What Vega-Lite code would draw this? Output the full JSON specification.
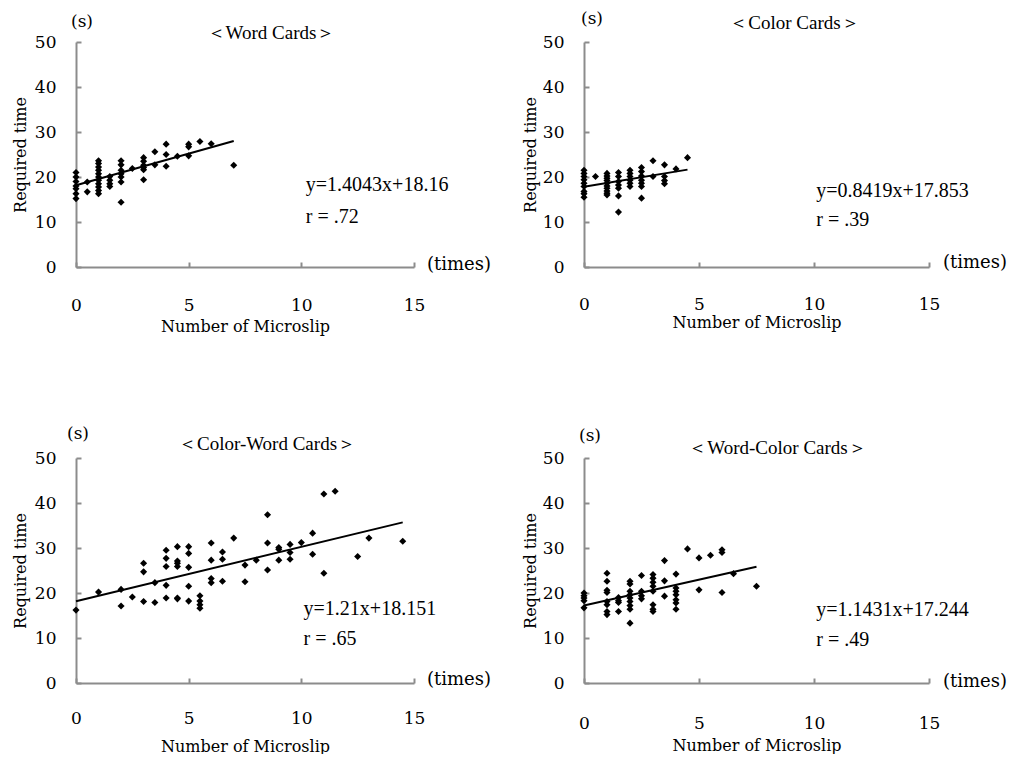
{
  "$schema": "https://vega.github.io/schema/vega-lite/v6.json",
  "autosize": {"type": "pad"},
  "padding": {"left": 12, "top": 10, "right": 0, "bottom": 0},
  "background": "white",
  "datasets": {
    "points": [
      {"panel": "W", "x": 0, "y": 21}, {"panel": "W", "x": 0, "y": 20}, {"panel": "W", "x": 0, "y": 19}, {"panel": "W", "x": 0, "y": 18}, {"panel": "W", "x": 0, "y": 17.4}, {"panel": "W", "x": 0, "y": 16.3}, {"panel": "W", "x": 0, "y": 15.2},
      {"panel": "W", "x": 0.5, "y": 18.9}, {"panel": "W", "x": 0.5, "y": 16.7},
      {"panel": "W", "x": 1, "y": 23.6}, {"panel": "W", "x": 1, "y": 23.0}, {"panel": "W", "x": 1, "y": 22.2}, {"panel": "W", "x": 1, "y": 21.5}, {"panel": "W", "x": 1, "y": 20.7}, {"panel": "W", "x": 1, "y": 20.0}, {"panel": "W", "x": 1, "y": 19.3}, {"panel": "W", "x": 1, "y": 18.5}, {"panel": "W", "x": 1, "y": 17.8}, {"panel": "W", "x": 1, "y": 17.0}, {"panel": "W", "x": 1, "y": 16.3},
      {"panel": "W", "x": 1.5, "y": 20.1}, {"panel": "W", "x": 1.5, "y": 19.3}, {"panel": "W", "x": 1.5, "y": 18.5}, {"panel": "W", "x": 1.5, "y": 17.9},
      {"panel": "W", "x": 2, "y": 23.6}, {"panel": "W", "x": 2, "y": 22.7}, {"panel": "W", "x": 2, "y": 21.5}, {"panel": "W", "x": 2, "y": 20.7}, {"panel": "W", "x": 2, "y": 20.0}, {"panel": "W", "x": 2, "y": 18.9}, {"panel": "W", "x": 2, "y": 14.4},
      {"panel": "W", "x": 2.5, "y": 21.9},
      {"panel": "W", "x": 3, "y": 24.3}, {"panel": "W", "x": 3, "y": 23.5}, {"panel": "W", "x": 3, "y": 22.6}, {"panel": "W", "x": 3, "y": 22.1}, {"panel": "W", "x": 3, "y": 21.6}, {"panel": "W", "x": 3, "y": 19.4},
      {"panel": "W", "x": 3.5, "y": 25.6}, {"panel": "W", "x": 3.5, "y": 22.7},
      {"panel": "W", "x": 4, "y": 27.3}, {"panel": "W", "x": 4, "y": 25.0}, {"panel": "W", "x": 4, "y": 22.4},
      {"panel": "W", "x": 4.5, "y": 24.6},
      {"panel": "W", "x": 5, "y": 27.3}, {"panel": "W", "x": 5, "y": 26.7}, {"panel": "W", "x": 5, "y": 24.7},
      {"panel": "W", "x": 5.5, "y": 27.9},
      {"panel": "W", "x": 6, "y": 27.4},
      {"panel": "W", "x": 7, "y": 22.6},

      {"panel": "C", "x": 0, "y": 21.5}, {"panel": "C", "x": 0, "y": 20.8}, {"panel": "C", "x": 0, "y": 20.1}, {"panel": "C", "x": 0, "y": 19.4}, {"panel": "C", "x": 0, "y": 18.6}, {"panel": "C", "x": 0, "y": 17.9}, {"panel": "C", "x": 0, "y": 16.8}, {"panel": "C", "x": 0, "y": 16.3}, {"panel": "C", "x": 0, "y": 15.5},
      {"panel": "C", "x": 0.5, "y": 20.1},
      {"panel": "C", "x": 1, "y": 20.8}, {"panel": "C", "x": 1, "y": 20.2}, {"panel": "C", "x": 1, "y": 19.7}, {"panel": "C", "x": 1, "y": 19.2}, {"panel": "C", "x": 1, "y": 18.6}, {"panel": "C", "x": 1, "y": 18.0}, {"panel": "C", "x": 1, "y": 17.5}, {"panel": "C", "x": 1, "y": 16.9}, {"panel": "C", "x": 1, "y": 16.4}, {"panel": "C", "x": 1, "y": 16.0},
      {"panel": "C", "x": 1.5, "y": 21.0}, {"panel": "C", "x": 1.5, "y": 20.1}, {"panel": "C", "x": 1.5, "y": 19.0}, {"panel": "C", "x": 1.5, "y": 18.2}, {"panel": "C", "x": 1.5, "y": 17.5}, {"panel": "C", "x": 1.5, "y": 15.8}, {"panel": "C", "x": 1.5, "y": 12.2},
      {"panel": "C", "x": 2, "y": 21.5}, {"panel": "C", "x": 2, "y": 20.8}, {"panel": "C", "x": 2, "y": 20.1}, {"panel": "C", "x": 2, "y": 19.3}, {"panel": "C", "x": 2, "y": 18.6}, {"panel": "C", "x": 2, "y": 17.9},
      {"panel": "C", "x": 2.5, "y": 22.1}, {"panel": "C", "x": 2.5, "y": 21.2}, {"panel": "C", "x": 2.5, "y": 20.2}, {"panel": "C", "x": 2.5, "y": 19.3}, {"panel": "C", "x": 2.5, "y": 18.6}, {"panel": "C", "x": 2.5, "y": 17.9}, {"panel": "C", "x": 2.5, "y": 15.3},
      {"panel": "C", "x": 3, "y": 23.6}, {"panel": "C", "x": 3, "y": 20.1},
      {"panel": "C", "x": 3.5, "y": 22.7}, {"panel": "C", "x": 3.5, "y": 20.1}, {"panel": "C", "x": 3.5, "y": 19.2}, {"panel": "C", "x": 3.5, "y": 18.5},
      {"panel": "C", "x": 4, "y": 21.8},
      {"panel": "C", "x": 4.5, "y": 24.3},

      {"panel": "CW", "x": 0, "y": 16.2}, {"panel": "CW", "x": 1, "y": 20.2}, {"panel": "CW", "x": 2, "y": 20.8}, {"panel": "CW", "x": 2, "y": 17.1}, {"panel": "CW", "x": 2.5, "y": 19.1},
      {"panel": "CW", "x": 3, "y": 26.6}, {"panel": "CW", "x": 3, "y": 24.7}, {"panel": "CW", "x": 3, "y": 18.1}, {"panel": "CW", "x": 3.5, "y": 22.3}, {"panel": "CW", "x": 3.5, "y": 17.9},
      {"panel": "CW", "x": 4, "y": 29.5}, {"panel": "CW", "x": 4, "y": 27.7}, {"panel": "CW", "x": 4, "y": 25.9}, {"panel": "CW", "x": 4, "y": 21.7}, {"panel": "CW", "x": 4, "y": 18.9},
      {"panel": "CW", "x": 4.5, "y": 30.3}, {"panel": "CW", "x": 4.5, "y": 27.1}, {"panel": "CW", "x": 4.5, "y": 26.6}, {"panel": "CW", "x": 4.5, "y": 25.9}, {"panel": "CW", "x": 4.5, "y": 18.9}, {"panel": "CW", "x": 4.5, "y": 18.7},
      {"panel": "CW", "x": 5, "y": 30.3}, {"panel": "CW", "x": 5, "y": 28.8}, {"panel": "CW", "x": 5, "y": 25.7}, {"panel": "CW", "x": 5, "y": 21.5}, {"panel": "CW", "x": 5, "y": 18.2},
      {"panel": "CW", "x": 5.5, "y": 19.4}, {"panel": "CW", "x": 5.5, "y": 18.2}, {"panel": "CW", "x": 5.5, "y": 17.4}, {"panel": "CW", "x": 5.5, "y": 16.6},
      {"panel": "CW", "x": 6, "y": 31.1}, {"panel": "CW", "x": 6, "y": 27.3}, {"panel": "CW", "x": 6, "y": 23.2}, {"panel": "CW", "x": 6, "y": 22.3},
      {"panel": "CW", "x": 6.5, "y": 29.1}, {"panel": "CW", "x": 6.5, "y": 27.5}, {"panel": "CW", "x": 6.5, "y": 22.6},
      {"panel": "CW", "x": 7, "y": 32.2}, {"panel": "CW", "x": 7.5, "y": 26.2}, {"panel": "CW", "x": 7.5, "y": 22.5}, {"panel": "CW", "x": 8, "y": 27.3},
      {"panel": "CW", "x": 8.5, "y": 37.4}, {"panel": "CW", "x": 8.5, "y": 31.1}, {"panel": "CW", "x": 8.5, "y": 25.1},
      {"panel": "CW", "x": 9, "y": 30.1}, {"panel": "CW", "x": 9, "y": 29.7}, {"panel": "CW", "x": 9, "y": 27.3},
      {"panel": "CW", "x": 9.5, "y": 30.8}, {"panel": "CW", "x": 9.5, "y": 29.0}, {"panel": "CW", "x": 9.5, "y": 27.5},
      {"panel": "CW", "x": 10, "y": 31.2}, {"panel": "CW", "x": 10.5, "y": 33.3}, {"panel": "CW", "x": 10.5, "y": 28.6},
      {"panel": "CW", "x": 11, "y": 24.4}, {"panel": "CW", "x": 11, "y": 42.0}, {"panel": "CW", "x": 11.5, "y": 42.6},
      {"panel": "CW", "x": 12.5, "y": 28.1}, {"panel": "CW", "x": 13, "y": 32.2}, {"panel": "CW", "x": 14.5, "y": 31.5},

      {"panel": "WC", "x": 0, "y": 20}, {"panel": "WC", "x": 0, "y": 19.4}, {"panel": "WC", "x": 0, "y": 18.9}, {"panel": "WC", "x": 0, "y": 18.3}, {"panel": "WC", "x": 0, "y": 16.7},
      {"panel": "WC", "x": 1, "y": 24.4}, {"panel": "WC", "x": 1, "y": 22.6}, {"panel": "WC", "x": 1, "y": 20.6}, {"panel": "WC", "x": 1, "y": 20.1}, {"panel": "WC", "x": 1, "y": 18.1}, {"panel": "WC", "x": 1, "y": 17.4}, {"panel": "WC", "x": 1, "y": 15.9}, {"panel": "WC", "x": 1, "y": 15.2},
      {"panel": "WC", "x": 1.5, "y": 19.0}, {"panel": "WC", "x": 1.5, "y": 18.3}, {"panel": "WC", "x": 1.5, "y": 17.9}, {"panel": "WC", "x": 1.5, "y": 15.9},
      {"panel": "WC", "x": 2, "y": 22.6}, {"panel": "WC", "x": 2, "y": 22.0}, {"panel": "WC", "x": 2, "y": 20.4}, {"panel": "WC", "x": 2, "y": 19.6}, {"panel": "WC", "x": 2, "y": 18.9}, {"panel": "WC", "x": 2, "y": 18.1}, {"panel": "WC", "x": 2, "y": 17.2}, {"panel": "WC", "x": 2, "y": 16.4}, {"panel": "WC", "x": 2, "y": 13.3},
      {"panel": "WC", "x": 2.5, "y": 23.9}, {"panel": "WC", "x": 2.5, "y": 20.4}, {"panel": "WC", "x": 2.5, "y": 19.4}, {"panel": "WC", "x": 2.5, "y": 18.7},
      {"panel": "WC", "x": 3, "y": 24.1}, {"panel": "WC", "x": 3, "y": 23.3}, {"panel": "WC", "x": 3, "y": 22.4}, {"panel": "WC", "x": 3, "y": 21.5}, {"panel": "WC", "x": 3, "y": 20.4}, {"panel": "WC", "x": 3, "y": 17.4}, {"panel": "WC", "x": 3, "y": 16.4}, {"panel": "WC", "x": 3, "y": 15.9},
      {"panel": "WC", "x": 3.5, "y": 27.2}, {"panel": "WC", "x": 3.5, "y": 22.7}, {"panel": "WC", "x": 3.5, "y": 19.3},
      {"panel": "WC", "x": 4, "y": 24.2}, {"panel": "WC", "x": 4, "y": 21.1}, {"panel": "WC", "x": 4, "y": 20.4}, {"panel": "WC", "x": 4, "y": 19.6}, {"panel": "WC", "x": 4, "y": 18.5}, {"panel": "WC", "x": 4, "y": 17.8}, {"panel": "WC", "x": 4, "y": 16.4},
      {"panel": "WC", "x": 4.5, "y": 29.8}, {"panel": "WC", "x": 5, "y": 27.8}, {"panel": "WC", "x": 5, "y": 20.7}, {"panel": "WC", "x": 5.5, "y": 28.4},
      {"panel": "WC", "x": 6, "y": 29.6}, {"panel": "WC", "x": 6, "y": 29.0}, {"panel": "WC", "x": 6, "y": 20.1},
      {"panel": "WC", "x": 6.5, "y": 24.3}, {"panel": "WC", "x": 7.5, "y": 21.5}
    ],
    "lines": [
      {"panel": "W", "x": 0, "y": 18.16}, {"panel": "W", "x": 7, "y": 27.99},
      {"panel": "C", "x": 0, "y": 17.853}, {"panel": "C", "x": 4.5, "y": 21.64},
      {"panel": "CW", "x": 0, "y": 18.151}, {"panel": "CW", "x": 14.5, "y": 35.70},
      {"panel": "WC", "x": 0, "y": 17.244}, {"panel": "WC", "x": 7.5, "y": 25.82}
    ]
  },
  "columns": 2,
  "bounds": "flush",
  "spacing": {"row": 191, "column": 170},
  "concat": [
    {
      "width": 338, "height": 225,
      "title": {"text": "＜Word Cards＞", "frame": "group", "dx": 26, "offset": -30},
      "layer": [
        {"data": {"name": "points"}, "transform": [{"filter": "datum.panel === 'W'"}],
         "mark": {"type": "point", "shape": "diamond", "filled": true, "color": "black", "opacity": 1, "size": 50},
         "encoding": {
           "x": {"field": "x", "type": "quantitative", "scale": {"domain": [0, 15], "nice": false}, "axis": {"values": [0, 5, 10, 15], "title": "Number of Microslip", "labelPadding": 35, "titlePadding": 5}},
           "y": {"field": "y", "type": "quantitative", "scale": {"domain": [0, 50], "nice": false}, "axis": {"values": [0, 10, 20, 30, 40, 50], "title": "Required time", "labelPadding": 25, "titlePadding": 6}}
         }},
        {"data": {"name": "lines"}, "transform": [{"filter": "datum.panel === 'W'"}],
         "mark": {"type": "line", "color": "black", "strokeWidth": 2},
         "encoding": {"x": {"field": "x", "type": "quantitative"}, "y": {"field": "y", "type": "quantitative"}}},
        {"data": {"values": [{}]}, "mark": {"type": "text", "text": "y=1.4043x+18.16", "align": "left", "baseline": "middle", "font": "Liberation Serif", "fontSize": 20},
         "encoding": {"x": {"datum": 10.2}, "y": {"datum": 18.2}}},
        {"data": {"values": [{}]}, "mark": {"type": "text", "text": "r = .72", "align": "left", "baseline": "middle", "font": "Liberation Serif", "fontSize": 20},
         "encoding": {"x": {"datum": 10.2}, "y": {"datum": 11.1}}},
        {"data": {"values": [{}]}, "mark": {"type": "text", "text": "(s)", "align": "center", "baseline": "middle", "font": "DejaVu Serif", "fontSize": 17, "dx": 6, "dy": -20},
         "encoding": {"x": {"datum": 0}, "y": {"datum": 50}}},
        {"data": {"values": [{}]}, "mark": {"type": "text", "text": "(times)", "align": "left", "baseline": "middle", "font": "DejaVu Serif", "fontSize": 18, "dx": 13, "dy": -2},
         "encoding": {"x": {"datum": 15}, "y": {"datum": 0}}}
      ]
    },
    {
      "width": 345, "height": 225,
      "title": {"text": "＜Color Cards＞", "frame": "group", "dx": 38, "offset": -23},
      "layer": [
        {"data": {"name": "points"}, "transform": [{"filter": "datum.panel === 'C'"}],
         "mark": {"type": "point", "shape": "diamond", "filled": true, "color": "black", "opacity": 1, "size": 50},
         "encoding": {
           "x": {"field": "x", "type": "quantitative", "scale": {"domain": [0, 15], "nice": false}, "axis": {"values": [0, 5, 10, 15], "title": "Number of Microslip", "labelPadding": 34, "titlePadding": 2}},
           "y": {"field": "y", "type": "quantitative", "scale": {"domain": [0, 50], "nice": false}, "axis": {"values": [0, 10, 20, 30, 40, 50], "title": "Required time", "labelPadding": 25, "titlePadding": 4}}
         }},
        {"data": {"name": "lines"}, "transform": [{"filter": "datum.panel === 'C'"}],
         "mark": {"type": "line", "color": "black", "strokeWidth": 2},
         "encoding": {"x": {"field": "x", "type": "quantitative"}, "y": {"field": "y", "type": "quantitative"}}},
        {"data": {"values": [{}]}, "mark": {"type": "text", "text": "y=0.8419x+17.853", "align": "left", "baseline": "middle", "font": "Liberation Serif", "fontSize": 20},
         "encoding": {"x": {"datum": 10.1}, "y": {"datum": 17.0}}},
        {"data": {"values": [{}]}, "mark": {"type": "text", "text": "r = .39", "align": "left", "baseline": "middle", "font": "Liberation Serif", "fontSize": 20},
         "encoding": {"x": {"datum": 10.1}, "y": {"datum": 10.5}}},
        {"data": {"values": [{}]}, "mark": {"type": "text", "text": "(s)", "align": "center", "baseline": "middle", "font": "DejaVu Serif", "fontSize": 17, "dx": 8, "dy": -23},
         "encoding": {"x": {"datum": 0}, "y": {"datum": 50}}},
        {"data": {"values": [{}]}, "mark": {"type": "text", "text": "(times)", "align": "left", "baseline": "middle", "font": "DejaVu Serif", "fontSize": 18, "dx": 14, "dy": -4},
         "encoding": {"x": {"datum": 15}, "y": {"datum": 0}}}
      ]
    },
    {
      "width": 338, "height": 225,
      "title": {"text": "＜Color-Word Cards＞", "frame": "group", "dx": 22, "offset": -29},
      "layer": [
        {"data": {"name": "points"}, "transform": [{"filter": "datum.panel === 'CW'"}],
         "mark": {"type": "point", "shape": "diamond", "filled": true, "color": "black", "opacity": 1, "size": 50},
         "encoding": {
           "x": {"field": "x", "type": "quantitative", "scale": {"domain": [0, 15], "nice": false}, "axis": {"values": [0, 5, 10, 15], "title": "Number of Microslip", "labelPadding": 32, "titlePadding": 12}},
           "y": {"field": "y", "type": "quantitative", "scale": {"domain": [0, 50], "nice": false}, "axis": {"values": [0, 10, 20, 30, 40, 50], "title": "Required time", "labelPadding": 25, "titlePadding": 6}}
         }},
        {"data": {"name": "lines"}, "transform": [{"filter": "datum.panel === 'CW'"}],
         "mark": {"type": "line", "color": "black", "strokeWidth": 2},
         "encoding": {"x": {"field": "x", "type": "quantitative"}, "y": {"field": "y", "type": "quantitative"}}},
        {"data": {"values": [{}]}, "mark": {"type": "text", "text": "y=1.21x+18.151", "align": "left", "baseline": "middle", "font": "Liberation Serif", "fontSize": 20},
         "encoding": {"x": {"datum": 10.1}, "y": {"datum": 16.5}}},
        {"data": {"values": [{}]}, "mark": {"type": "text", "text": "r = .65", "align": "left", "baseline": "middle", "font": "Liberation Serif", "fontSize": 20},
         "encoding": {"x": {"datum": 10.1}, "y": {"datum": 9.8}}},
        {"data": {"values": [{}]}, "mark": {"type": "text", "text": "(s)", "align": "center", "baseline": "middle", "font": "DejaVu Serif", "fontSize": 17, "dx": 2, "dy": -24},
         "encoding": {"x": {"datum": 0}, "y": {"datum": 50}}},
        {"data": {"values": [{}]}, "mark": {"type": "text", "text": "(times)", "align": "left", "baseline": "middle", "font": "DejaVu Serif", "fontSize": 18, "dx": 13, "dy": -3},
         "encoding": {"x": {"datum": 15}, "y": {"datum": 0}}}
      ]
    },
    {
      "width": 345, "height": 225,
      "title": {"text": "＜Word-Color Cards＞", "frame": "group", "dx": 21, "offset": -31},
      "layer": [
        {"data": {"name": "points"}, "transform": [{"filter": "datum.panel === 'WC'"}],
         "mark": {"type": "point", "shape": "diamond", "filled": true, "color": "black", "opacity": 1, "size": 50},
         "encoding": {
           "x": {"field": "x", "type": "quantitative", "scale": {"domain": [0, 15], "nice": false}, "axis": {"values": [0, 5, 10, 15], "title": "Number of Microslip", "labelPadding": 37, "titlePadding": 6}},
           "y": {"field": "y", "type": "quantitative", "scale": {"domain": [0, 50], "nice": false}, "axis": {"values": [0, 10, 20, 30, 40, 50], "title": "Required time", "labelPadding": 25, "titlePadding": 4}}
         }},
        {"data": {"name": "lines"}, "transform": [{"filter": "datum.panel === 'WC'"}],
         "mark": {"type": "line", "color": "black", "strokeWidth": 2},
         "encoding": {"x": {"field": "x", "type": "quantitative"}, "y": {"field": "y", "type": "quantitative"}}},
        {"data": {"values": [{}]}, "mark": {"type": "text", "text": "y=1.1431x+17.244", "align": "left", "baseline": "middle", "font": "Liberation Serif", "fontSize": 20},
         "encoding": {"x": {"datum": 10.1}, "y": {"datum": 16.2}}},
        {"data": {"values": [{}]}, "mark": {"type": "text", "text": "r = .49", "align": "left", "baseline": "middle", "font": "Liberation Serif", "fontSize": 20},
         "encoding": {"x": {"datum": 10.1}, "y": {"datum": 9.6}}},
        {"data": {"values": [{}]}, "mark": {"type": "text", "text": "(s)", "align": "center", "baseline": "middle", "font": "DejaVu Serif", "fontSize": 17, "dx": 6, "dy": -22},
         "encoding": {"x": {"datum": 0}, "y": {"datum": 50}}},
        {"data": {"values": [{}]}, "mark": {"type": "text", "text": "(times)", "align": "left", "baseline": "middle", "font": "DejaVu Serif", "fontSize": 18, "dx": 14, "dy": -1},
         "encoding": {"x": {"datum": 15}, "y": {"datum": 0}}}
      ]
    }
  ],
  "config": {
    "view": {"stroke": null},
    "font": "Liberation Serif",
    "axis": {
      "grid": false,
      "domainColor": "#8c8c8c", "domainWidth": 2,
      "tickColor": "#8c8c8c", "tickWidth": 2, "tickSize": -5,
      "labelFont": "DejaVu Serif", "labelFontSize": 17, "labelColor": "black", "labelFlush": false,
      "titleFont": "DejaVu Serif", "titleFontSize": 16, "titleFontWeight": "normal", "titleColor": "black"
    },
    "title": {"font": "Liberation Serif", "fontSize": 19, "fontWeight": "normal", "color": "black"}
  }
}
